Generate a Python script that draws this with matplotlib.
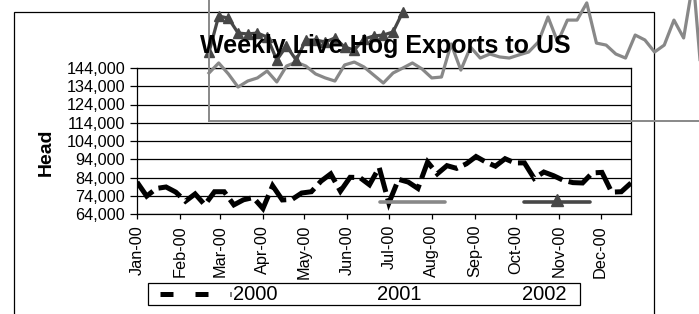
import matplotlib
matplotlib.use('Agg')
import matplotlib.pyplot as plt
from matplotlib.lines import Line2D
from matplotlib.patches import Rectangle
import datetime as dt

plt.rcParams['font.family'] = ['Liberation Sans', 'DejaVu Sans']

# ---------------- data ----------------
weeks = list(range(52))
exports_2000 = [81500, 73800, 78000, 78800, 76000, 71000, 75000, 69000, 76200, 76200,
                69000, 71800, 73000, 67000, 79500, 71700, 72000, 75500, 76200, 82000,
                86000, 76500, 84100, 84000, 80000, 89500, 70000, 83000, 81500, 78000,
                92500, 86000, 90500, 89000, 91500, 95500, 92500, 90200, 94300, 92000,
                92000, 83500, 87000, 85000, 82500, 81200, 81000, 86500, 86800, 76000,
                76200, 81000]
exports_2001 = [90300, 95800, 89800, 82600, 85900, 87600, 91400, 85400, 94100, 96300,
                94100, 89800, 87600, 85900, 94700, 96300, 93600, 89200, 84800, 90300,
                93000, 95800, 92500, 87600, 88100, 106200, 91900, 104500, 98500, 100700,
                99100, 98500, 100200, 101800, 107300, 121000, 107300, 119300, 119300, 128700,
                106700, 105600, 100700, 98500, 111100, 108400, 101800, 105600, 119300, 109500,
                141200, 78200]
exports_2002 = [101800, 121500, 120400, 112200, 111700, 112200, 110000, 97400, 105100, 97400,
                108400, 108400, 107300, 109500, 104500, 102900, 108900, 110600, 111100, 112800,
                123700]
series_names = ['2000', '2001', '2002']
month_labels = ['Jan-00', 'Feb-00', 'Mar-00', 'Apr-00', 'May-00', 'Jun-00',
                'Jul-00', 'Aug-00', 'Sep-00', 'Oct-00', 'Nov-00', 'Dec-00']
month_pos = [(dt.date(2000, m, 1) - dt.date(2000, 1, 1)).days / 7 for m in range(1, 13)]
y_ticks = list(range(64000, 144001, 10000))
title = 'Weekly Live Hog Exports to US'
ylabel = 'Head'

C2001 = '#888888'
C2002 = '#474747'

W, H = 699, 314
fig = plt.figure(figsize=(W / 100, H / 100), dpi=100)
fig.patch.set_facecolor('white')


def fx(px):
    return px / W


def fy(py):
    return 1 - py / H


# outer chart-area border
fig.add_artist(Rectangle((fx(14), fy(340)), 640 / W, (340 - 12) / H, fill=False,
                         edgecolor='black', lw=0.9, transform=fig.transFigure, zorder=0.5))

# main plot area
ax = fig.add_axes([fx(137), fy(214), 494 / W, 146 / H])
ax.set_xlim(0, 51)
ax.set_ylim(64000, 144000)
ax.set_yticks(y_ticks)
ax.set_yticklabels([f'{v:,}' for v in y_ticks])
ax.set_xticks(month_pos)
ax.set_xticklabels(month_labels, rotation=90)
ax.yaxis.grid(True, color='black', lw=0.9)
ax.set_axisbelow(True)
for s in ax.spines.values():
    s.set_color('black')
    s.set_linewidth(0.9)
ax.tick_params(axis='x', length=3.6, width=0.9, pad=4.3, labelsize=11.7)
ax.tick_params(axis='y', length=5, width=0.9, pad=3.6, labelsize=11.7)
ax.plot(weeks, exports_2000, color='black', lw=3.6, linestyle=(0, (5, 1.3)),
        dash_capstyle='butt', dash_joinstyle='miter', zorder=3)

fig.text(fx(46), fy(152), ylabel, rotation=90, ha='center', va='center',
         fontsize=14, fontweight='bold')

# misplaced second plot frame carrying 2001 / 2002
ax2 = fig.add_axes([fx(209), fy(121), 494 / W, 146 / H], zorder=1)
ax2.set_xlim(0, 51)
ax2.set_ylim(64000, 144000)
ax2.patch.set_alpha(0)
for k in ('top', 'right'):
    ax2.spines[k].set_visible(False)
for k in ('left', 'bottom'):
    ax2.spines[k].set_color(C2001)
    ax2.spines[k].set_linewidth(1.4)
ax2.set_xticks([])
ax2.set_yticks([])
ax2.plot(weeks, exports_2001, color=C2001, lw=2.3, clip_on=False)
ax2.plot(weeks[:len(exports_2002)], exports_2002, color=C2002, lw=2.3, marker='^',
         ms=7, clip_on=False)

# title
fig.text(fx(385), fy(53), title, ha='center', va='baseline', fontsize=18,
         fontweight='bold', zorder=5)

# legend box
fig.add_artist(Rectangle((fx(148), fy(305)), 432 / W, 22 / H, facecolor='white',
                         edgecolor='black', lw=0.9, transform=fig.transFigure, zorder=2))
fig.add_artist(Line2D([fx(160), fx(231)], [fy(294), fy(294)], color='black', lw=3.6,
                      linestyle=(0, (2.6, 4.4)), dash_capstyle='butt',
                      transform=fig.transFigure, zorder=3))
for name, px in zip(series_names, [233, 377, 522]):
    fig.text(fx(px), fy(294), name, ha='left', va='center', fontsize=14.5, zorder=3)

# stray legend keys drawn inside plot area
fig.add_artist(Line2D([fx(380), fx(445)], [fy(202), fy(202)], color=C2001, lw=2.6,
                      solid_capstyle='round', transform=fig.transFigure, zorder=3))
fig.add_artist(Line2D([fx(524), fx(590)], [fy(202), fy(202)], color=C2002, lw=2.6,
                      solid_capstyle='round', transform=fig.transFigure, zorder=3))
fig.add_artist(Line2D([fx(557)], [fy(200)], color=C2002, marker='^', ms=9, lw=0,
                      transform=fig.transFigure, zorder=3))

fig.savefig('out.png', dpi=100)
